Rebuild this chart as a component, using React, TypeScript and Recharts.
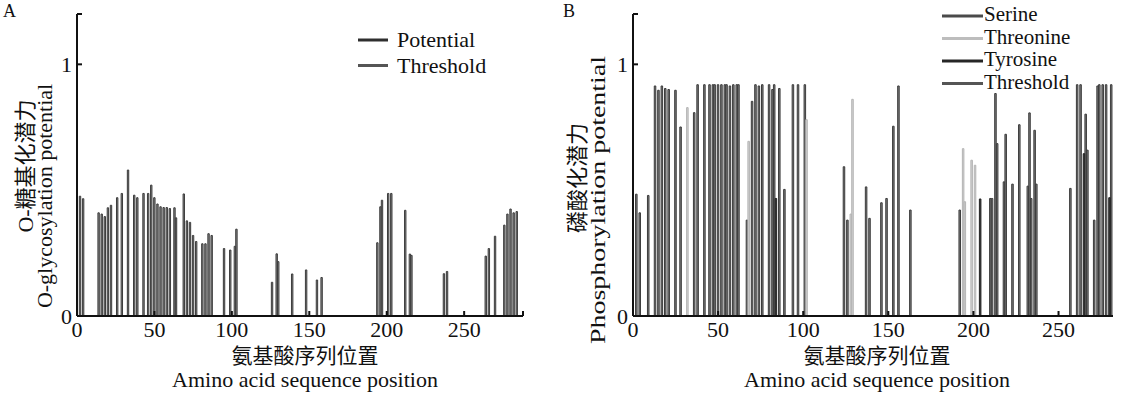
import React from 'react';
import { ComposedChart, Bar, XAxis, YAxis, Cell } from 'recharts';

const FONT = "'Liberation Serif', 'Times New Roman', 'Noto Sans CJK SC', serif";

// Panel A – O-glycosylation potential
const glycoPositions = [2, 4, 14, 16, 18, 20, 22, 26, 29, 33, 37, 39, 43, 46, 48, 50, 52, 54, 56, 58, 60, 63, 64, 69, 71, 73, 75, 77, 81, 83, 85, 87, 95, 99, 102, 103, 126, 129, 130, 139, 148, 155, 158, 194, 196, 197, 201, 203, 212, 215, 216, 237, 239, 264, 266, 270, 276, 278, 280, 282, 284];
const glycoPotential = [0.476, 0.466, 0.41, 0.405, 0.395, 0.43, 0.44, 0.47, 0.487, 0.58, 0.48, 0.47, 0.487, 0.487, 0.52, 0.47, 0.445, 0.434, 0.431, 0.431, 0.427, 0.43, 0.39, 0.485, 0.378, 0.372, 0.32, 0.296, 0.287, 0.287, 0.327, 0.32, 0.268, 0.262, 0.277, 0.345, 0.134, 0.247, 0.216, 0.167, 0.183, 0.143, 0.153, 0.291, 0.434, 0.46, 0.487, 0.487, 0.42, 0.246, 0.241, 0.168, 0.177, 0.238, 0.268, 0.317, 0.361, 0.405, 0.425, 0.41, 0.415];

// Panel B – phosphorylation potential
const serinePositions = [2, 4, 9, 13, 15, 17, 19, 21, 25, 28, 36, 38, 42, 45, 47, 48, 50, 52, 54, 55, 57, 59, 61, 62, 67, 70, 72, 74, 76, 80, 82, 83, 86, 89, 94, 97, 101, 124, 126, 137, 139, 146, 149, 153, 156, 163, 192, 210, 211, 213, 214, 218, 219, 223, 227, 232, 233, 234, 236, 237, 257, 261, 263, 266, 267, 271, 273, 274, 276, 278, 281];
const serineValues = [0.484, 0.41, 0.479, 0.914, 0.897, 0.914, 0.904, 0.9, 0.897, 0.751, 0.808, 0.919, 0.919, 0.919, 0.919, 0.919, 0.919, 0.919, 0.919, 0.919, 0.914, 0.919, 0.919, 0.919, 0.381, 0.853, 0.919, 0.914, 0.919, 0.919, 0.9, 0.919, 0.904, 0.503, 0.919, 0.919, 0.919, 0.593, 0.381, 0.513, 0.388, 0.45, 0.467, 0.754, 0.914, 0.421, 0.421, 0.467, 0.467, 0.884, 0.685, 0.533, 0.722, 0.524, 0.76, 0.516, 0.807, 0.467, 0.738, 0.524, 0.507, 0.919, 0.919, 0.802, 0.659, 0.381, 0.914, 0.919, 0.919, 0.919, 0.919];
const threoninePositions = [32, 68, 102, 128, 129, 194, 195, 199, 201];
const threonineValues = [0.828, 0.694, 0.78, 0.405, 0.861, 0.665, 0.454, 0.619, 0.599];
const tyrosinePositions = [84, 204, 265, 280];
const tyrosineValues = [0.467, 0.465, 0.645, 0.47];

const xTicksA = [0, 50, 100, 150, 200, 250, 288];
const xTicksB = [0, 50, 100, 150, 200, 250];
const yTicks = [0, 1, 1.2];

const legendA = ['Potential', 'Threshold'];
const legendAColors = ['#2e2e2e', '#555555'];
const legendB = ['Serine', 'Threonine', 'Tyrosine', 'Threshold'];
const legendBColors = ['#4a4a4a', '#bdbdbd', '#262626', '#555555'];

const typeStyle: Record<string, { fill: string; stroke: string }> = {
  S: { fill: '#7e7e7e', stroke: '#3c3c3c' },
  T: { fill: '#d2d2d2', stroke: '#b4b4b4' },
  Y: { fill: '#3a3a3a', stroke: '#222222' },
};

const glycoData = glycoPositions.map((p, i) => ({ pos: p, v: glycoPotential[i] }));
const phosData = [
  ...serinePositions.map((p, i) => ({ pos: p, v: serineValues[i], t: 'S' })),
  ...threoninePositions.map((p, i) => ({ pos: p, v: threonineValues[i], t: 'T' })),
  ...tyrosinePositions.map((p, i) => ({ pos: p, v: tyrosineValues[i], t: 'Y' })),
];

const axisLine = { stroke: '#111', strokeWidth: 2 };
const tickStyle = { fill: '#111', fontSize: 22, fontFamily: FONT };

export default function App() {
  return (
    <div style={{ position: 'absolute', left: 0, top: 0, width: 1125, height: 395, background: '#fff', overflow: 'hidden' }}>
      <div style={{ position: 'absolute', left: 0, top: 0 }}>
        <ComposedChart width={562} height={395} data={glycoData} margin={{ top: 14, right: 39, bottom: 39, left: 37 }}>
          <XAxis
            type="number"
            dataKey="pos"
            domain={[0, 288]}
            ticks={xTicksA}
            interval={0}
            tickFormatter={(v: number) => (v === 288 ? '' : String(v))}
            height={40}
            axisLine={axisLine}
            tickLine={axisLine}
            tickSize={-5}
            tickMargin={10}
            tick={tickStyle}
            allowDataOverflow
          />
          <YAxis
            type="number"
            domain={[0, 1.2]}
            ticks={yTicks}
            interval={0}
            tickFormatter={(v: number) => (v === 1.2 ? '' : String(v))}
            width={40}
            axisLine={axisLine}
            tickLine={axisLine}
            tickSize={-5}
            tickMargin={10}
            tick={tickStyle}
            allowDataOverflow
          />
          <Bar dataKey="v" barSize={3} fill="#8a8a8a" stroke="#3c3c3c" strokeWidth={1} isAnimationActive={false} />
        </ComposedChart>
      </div>
      <div style={{ position: 'absolute', left: 562, top: 0 }}>
        <ComposedChart width={563} height={395} data={phosData} margin={{ top: 14, right: 12, bottom: 39, left: 31 }}>
          <XAxis
            type="number"
            dataKey="pos"
            domain={[0, 282]}
            ticks={xTicksB}
            interval={0}
            height={40}
            axisLine={axisLine}
            tickLine={axisLine}
            tickSize={-5}
            tickMargin={10}
            tick={tickStyle}
            allowDataOverflow
          />
          <YAxis
            type="number"
            domain={[0, 1.2]}
            ticks={yTicks}
            interval={0}
            tickFormatter={(v: number) => (v === 1.2 ? '' : String(v))}
            width={40}
            axisLine={axisLine}
            tickLine={axisLine}
            tickSize={-5}
            tickMargin={10}
            tick={tickStyle}
            allowDataOverflow
          />
          <Bar dataKey="v" barSize={3} isAnimationActive={false}>
            {phosData.map((d, i) => (
              <Cell key={i} fill={typeStyle[d.t].fill} stroke={typeStyle[d.t].stroke} strokeWidth={1} />
            ))}
          </Bar>
        </ComposedChart>
      </div>
      <svg width={1125} height={395} style={{ position: 'absolute', left: 0, top: 0, pointerEvents: 'none' }} fontFamily={FONT} fill="#111">
        <text x={3} y={17} fontSize={18}>A</text>
        <text x={563} y={17} fontSize={18}>B</text>
        {/* Panel A y title */}
        <text x={25} y={166} fontSize={22} textAnchor="middle" dominantBaseline="central" transform="rotate(-90 25 166)">O-糖基化潜力</text>
        <text x={44} y={196} fontSize={22} textAnchor="middle" dominantBaseline="central" transform="rotate(-90 44 196)">O-glycosylation potential</text>
        {/* Panel B y title */}
        <text x={577} y={178} fontSize={22} textAnchor="middle" dominantBaseline="central" transform="rotate(-90 577 178)">磷酸化潜力</text>
        <text x={597} y={200} fontSize={22} textAnchor="middle" dominantBaseline="central" textLength={288} lengthAdjust="spacingAndGlyphs" transform="rotate(-90 597 200)">Phosphorylation potential</text>
        {/* x titles */}
        <text x={305} y={363} fontSize={21} textAnchor="middle">氨基酸序列位置</text>
        <text x={305} y={387} fontSize={22} textAnchor="middle">Amino acid sequence position</text>
        <text x={877} y={363} fontSize={21} textAnchor="middle">氨基酸序列位置</text>
        <text x={877} y={387} fontSize={22} textAnchor="middle">Amino acid sequence position</text>
        {/* legend A */}
        {legendA.map((name, i) => (
          <g key={name}>
            <line x1={358} x2={388} y1={40 + i * 25.5} y2={40 + i * 25.5} stroke={legendAColors[i]} strokeWidth={3} />
            <text x={397} y={47 + i * 26} fontSize={22}>{name}</text>
          </g>
        ))}
        {/* legend B */}
        {legendB.map((name, i) => (
          <g key={name}>
            <line x1={942} x2={983} y1={16 + i * 22.5} y2={16 + i * 22.5} stroke={legendBColors[i]} strokeWidth={3} />
            <text x={984} y={21 + i * 22.5} fontSize={21}>{name}</text>
          </g>
        ))}
      </svg>
    </div>
  );
}
